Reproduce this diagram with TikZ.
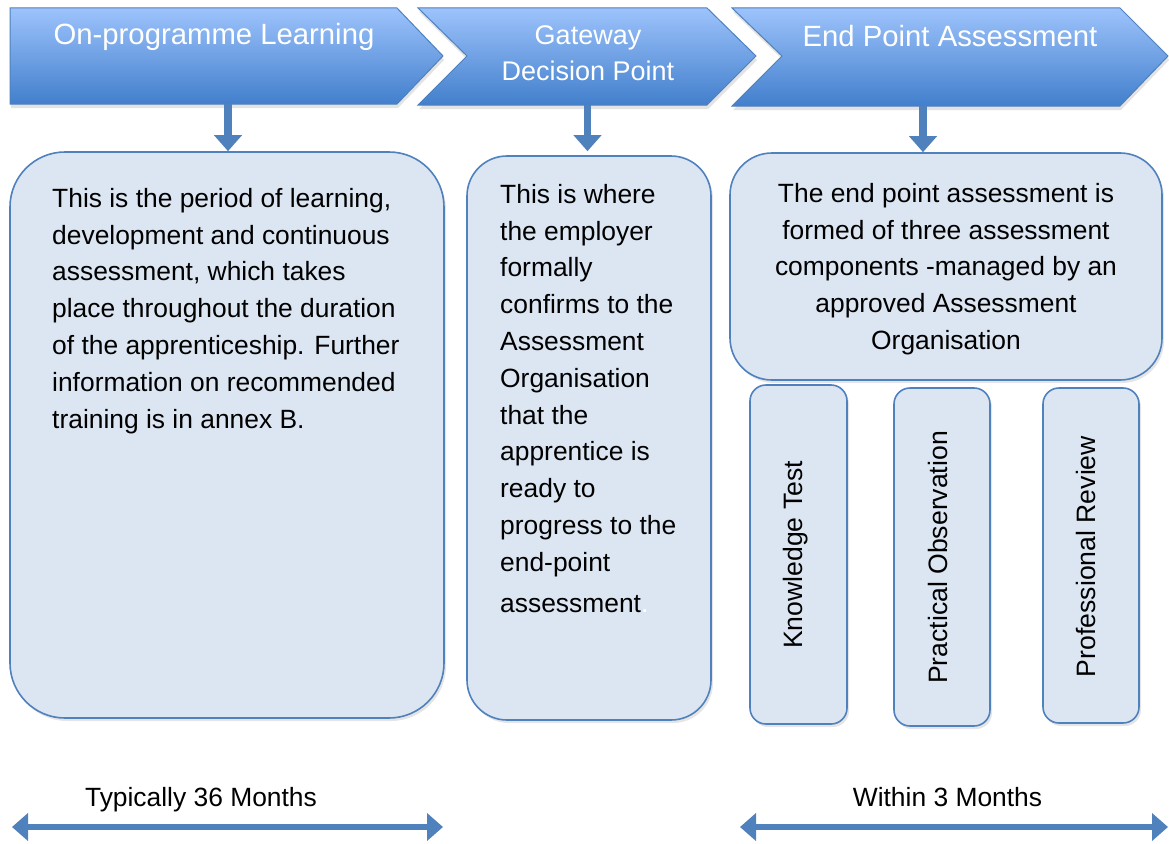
\documentclass[tikz,border=0pt]{standalone}
\usepackage{fontspec}
\setmainfont{Liberation Sans}
\usetikzlibrary{arrows.meta,shadows}
\definecolor{bord}{RGB}{79,129,189}
\definecolor{boxfill}{RGB}{220,230,242}
\definecolor{chtop}{RGB}{157,195,252}
\definecolor{chmid}{RGB}{118,164,232}
\definecolor{chbot}{RGB}{66,127,204}
\definecolor{arrowc}{RGB}{79,129,189}
\begin{document}
\begin{tikzpicture}[x=1pt,y=-1pt,
  chev/.style={draw=bord, line width=1pt, top color=chtop, middle color=chmid, bottom color=chbot,
    drop shadow={opacity=0.22, shadow xshift=1pt, shadow yshift=-4pt}},
  chevtext/.style={text=white, align=center, inner sep=0pt},
  rbox/.style={draw=bord, fill=boxfill, line width=1.6pt, inner sep=0pt,
    drop shadow={opacity=0.2, shadow xshift=2pt, shadow yshift=-3pt}},
  btext/.style={font=\fontsize{26.4}{36.8}\selectfont, inner sep=0pt},
  vtext/.style={font=\fontsize{26.6}{30}\selectfont, inner sep=0pt, rotate=90, anchor=base},
  downarrow/.style={draw=arrowc, line width=7.5pt, -{Triangle[width=27pt,length=16pt]}, arrowc},
  darrow/.style={draw=arrowc, line width=5.5pt, {Triangle[width=27pt,length=16pt]}-{Triangle[width=27pt,length=16pt]}, arrowc},
  blabel/.style={font=\fontsize{26.4}{30}\selectfont, anchor=base, inner sep=0pt}
]
\useasboundingbox (0,0) rectangle (1169,843);
\fill[white] (0,0) rectangle (1169,843);

% chevrons
\draw[chev] (10,8) -- (397,8) -- (443,56) -- (397,104) -- (10,104) -- cycle;
\draw[chev] (418,8) -- (707,8) -- (756,56) -- (707,105) -- (418,105) -- (467,56) -- cycle;
\draw[chev] (732,8) -- (1120,8) -- (1168,56) -- (1120,106) -- (732,106) -- (782,56) -- cycle;

\node[chevtext, font=\fontsize{29.3}{34}\selectfont, anchor=base] (t1) at (214,45) {On-programme Learning};
\node[chevtext, font=\fontsize{27}{35.7}\selectfont, anchor=base] (t2) at (588,44.3) {Gateway};
\node[chevtext, font=\fontsize{27}{35.7}\selectfont, anchor=base] (t2b) at (588,80) {Decision Point};
\node[chevtext, font=\fontsize{29.3}{34}\selectfont, anchor=base] (t3) at (950,46.5) {End Point Assessment};

\coordinate (c1s) at (228,104);
\coordinate (c2s) at (587.5,105);
\coordinate (c3s) at (923,106);

% boxes
\node[rbox, rounded corners=55pt, minimum width=434pt, minimum height=566pt] (b1) at (227,435) {};
\node[rbox, rounded corners=40pt, minimum width=244pt, minimum height=564pt] (b2) at (589,438) {};
\node[rbox, rounded corners=42pt, minimum width=432pt, minimum height=227pt] (b3) at (946,266.5) {};
\node[rbox, rounded corners=16pt, minimum width=97pt, minimum height=339pt] (k1) at (798.5,554.5) {};
\node[rbox, rounded corners=16pt, minimum width=96pt, minimum height=338pt] (k2) at (942,557) {};
\node[rbox, rounded corners=16pt, minimum width=96pt, minimum height=335pt] (k3) at (1091,555.5) {};

% arrows down
\draw[downarrow] (c1s) -- (c1s |- b1.north);
\draw[downarrow, shorten >=4pt] (c2s) -- (c2s |- b2.north);
\draw[downarrow] (c3s) -- (c3s |- b3.north);

% texts
\node[btext, anchor=north west, align=left] (x1) at (52,181.3) {\strut This is the period of learning,\\
development and continuous\\
assessment, which takes\\
place throughout the duration\\
of the apprenticeship. Further\\
information on recommended\\
training is in annex B.};

\node[btext, anchor=north west, align=left] (x2) at (500,177.3) {\strut This is where\\
the employer\\
formally\\
confirms to the\\
Assessment\\
Organisation\\
that the\\
apprentice is\\
ready to\\
progress to the\\
end-point\\[4pt]
assessment{\color{white}.}};

\node[btext, anchor=north, align=center] (x3) at (946,176.3) {\strut The end point assessment is\\
formed of three assessment\\
components -managed by an\\
approved Assessment\\
Organisation};

\node[vtext] (v1) at (802,555) {Knowledge Test};
\node[vtext] (v2) at (947,557.5) {Practical Observation};
\node[vtext] (v3) at (1095,556.5) {Professional Review};

% bottom
\node[blabel] (l1) at (201,806.7) {Typically 36 Months};
\node[blabel] (l2) at (947.5,806.7) {Within 3 Months};
\coordinate (a1) at (12,827);
\coordinate (a2) at (443,827);
\coordinate (a3) at (740,827);
\coordinate (a4) at (1168,827);
\draw[darrow] (a1) -- (a2);
\draw[darrow] (a3) -- (a4);
\end{tikzpicture}
\end{document}
